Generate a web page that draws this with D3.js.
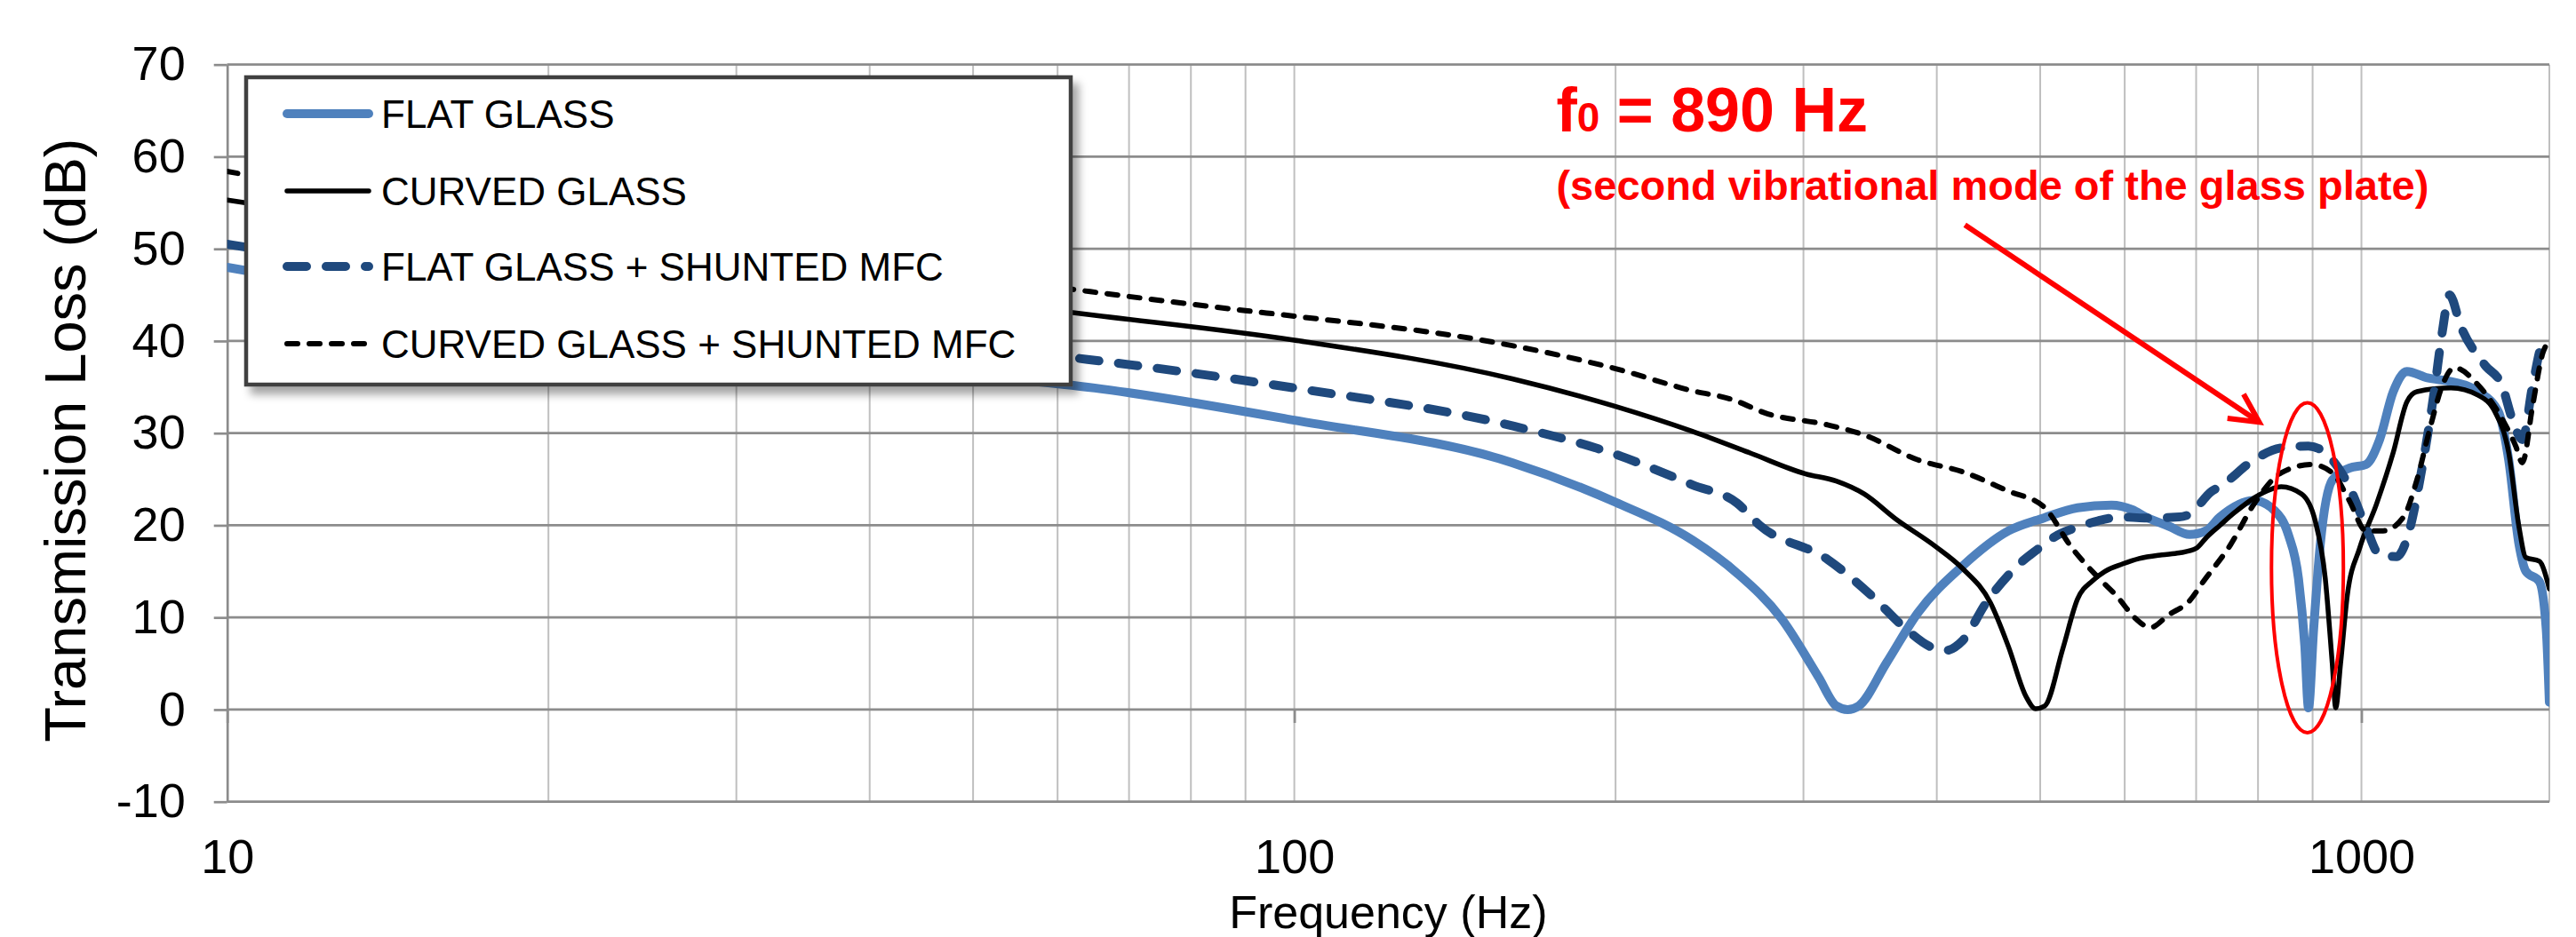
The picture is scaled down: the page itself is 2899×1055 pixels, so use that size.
<!DOCTYPE html>
<html>
<head>
<meta charset="utf-8">
<script src="https://cdn.jsdelivr.net/npm/d3@7"></script>
<style>
  body { margin: 0; background: #fff; }
  svg { display: block; font-family: "Liberation Sans", Arial, sans-serif; }
</style>
</head>
<body>
<div id="chart"></div>
<script>
// transmission loss curves, [frequency (Hz), TL (dB)]
const flatGlass = [
  [10, 48.0], [20, 42.2], [35, 38.3], [50, 36.3], [65, 34.9], [100, 31.4], [160, 26.8],
  [200, 22.5], [236, 18.4], [260, 14.8], [286, 9.9], [310, 3.5], [322, 0.4], [330, 0.0],
  [338, 0.4], [359, 5.1], [384, 10.5], [423, 15.6], [467, 19.4], [504, 20.8], [542, 21.9],
  [583, 22.2], [610, 21.7], [628, 20.9], [660, 19.9], [690, 19.0], [715, 19.4], [737, 20.9],
  [793, 22.7], [829, 21.6], [854, 19.0], [873, 14.2], [885, 6.9], [892, 0.2], [902, 8.7],
  [915, 17.9], [939, 24.9], [974, 26.2], [1010, 26.6], [1040, 29.3], [1071, 34.5],
  [1103, 36.7], [1153, 36.0], [1213, 35.6], [1287, 34.5], [1344, 32.3], [1374, 27.1],
  [1405, 17.9], [1426, 15.0], [1468, 13.9], [1490, 8.7], [1500, 0.8]
];

const curvedGlass = [
  [10, 55.3], [20, 50.2], [35, 46.6], [50, 44.4], [65, 42.8], [100, 40.1], [160, 35.9],
  [200, 32.9], [236, 30.2], [268, 27.8], [301, 25.6], [322, 24.8], [342, 23.4], [366, 20.7],
  [399, 17.7], [423, 15.3], [449, 11.6], [467, 6.8], [485, 1.4], [495, 0.1], [505, 0.4],
  [525, 6.6], [542, 12.0], [560, 14.0], [575, 15.0], [597, 15.8], [619, 16.4], [650, 16.8],
  [675, 17.0], [700, 17.5], [716, 18.7], [737, 20.0], [759, 21.3], [805, 23.4], [841, 24.2],
  [879, 23.4], [905, 20.5], [925, 14.2], [939, 5.0], [946, 0.2], [956, 5.0], [970, 12.4],
  [996, 17.5], [1033, 22.3], [1071, 27.9], [1103, 33.4], [1127, 34.5], [1213, 34.9],
  [1287, 34.1], [1334, 32.3], [1374, 27.9], [1405, 19.8], [1426, 16.5], [1468, 16.1], [1500, 13.1]
];

const flatGlassMfc = [
  [10, 50.5], [20, 45.2], [35, 41.3], [50, 39.4], [64, 38.0], [100, 34.9], [160, 30.8],
  [200, 27.7], [236, 24.4], [260, 22.4], [273, 20.0], [316, 16.3], [348, 12.3], [373, 8.9],
  [395, 6.8], [407, 6.4], [423, 7.5], [445, 11.6], [476, 15.6], [504, 17.9], [515, 18.7],
  [542, 19.8], [567, 20.5], [596, 20.9], [626, 20.8], [675, 20.9], [690, 21.2], [724, 23.7],
  [737, 24.2], [793, 27.1], [841, 28.4], [892, 28.6], [939, 27.1], [974, 24.2], [1010, 19.8],
  [1040, 16.8], [1079, 16.6], [1111, 19.8], [1136, 25.3], [1170, 34.5], [1191, 41.1],
  [1209, 45.0], [1240, 41.5], [1305, 37.4], [1354, 35.2], [1384, 31.6], [1415, 29.3],
  [1447, 35.2], [1479, 39.7], [1500, 40.0]
];

const curvedGlassMfc = [
  [10, 58.4], [20, 52.6], [35, 49.0], [50, 47.0], [62, 45.6], [90, 43.3], [100, 42.7],
  [148, 40.2], [160, 39.5], [200, 37.0], [236, 34.6], [258, 33.6], [276, 32.2], [316, 30.9],
  [342, 29.8], [384, 27.1], [423, 25.8], [467, 23.7], [504, 22.0], [535, 17.6], [567, 14.3],
  [590, 12.3], [614, 9.9], [634, 8.9], [660, 10.3], [690, 11.8], [711, 13.9], [754, 17.9],
  [793, 22.3], [841, 25.7], [898, 26.6], [939, 25.7], [974, 22.7], [1010, 19.4], [1048, 19.4],
  [1095, 20.9], [1127, 24.9], [1161, 30.8], [1191, 35.2], [1222, 37.1], [1287, 35.2],
  [1354, 31.6], [1395, 28.6], [1415, 26.8], [1447, 33.0], [1479, 38.7], [1500, 40.0]
];

const seriesNames = ["FLAT GLASS", "CURVED GLASS", "FLAT GLASS + SHUNTED MFC", "CURVED GLASS + SHUNTED MFC"];
const yTicks = [-10, 0, 10, 20, 30, 40, 50, 60, 70];
const xLabelTicks = [10, 100, 1000];

// annotation
const f0 = 890;
const annoTitle = "= 890 Hz";
const annoSub = "(second vibrational mode of the glass plate)";

// setup
const width = 2899, height = 1055;
const plot = {left: 255.7, right: 2869, top: 72.7, bottom: 902.7};

const x = d3.scaleLog().domain([10, 1500]).range([plot.left, plot.right]);
const y = d3.scaleLinear().domain([-10, 70]).range([plot.bottom, plot.top]);

const svg = d3.select("#chart").append("svg")
  .attr("width", width)
  .attr("height", height);

svg.append("rect").attr("width", width).attr("height", height).attr("fill", "#fff");

const defs = svg.append("defs");
defs.append("clipPath").attr("id", "plotClip")
  .append("rect")
  .attr("x", plot.left).attr("y", plot.top - 10)
  .attr("width", plot.right - plot.left).attr("height", plot.bottom - plot.top + 20);

defs.append("filter").attr("id", "shadow")
  .attr("x", "-5%").attr("y", "-5%").attr("width", "115%").attr("height", "125%")
  .append("feDropShadow")
  .attr("dx", 7).attr("dy", 9).attr("stdDeviation", 5)
  .attr("flood-color", "#000").attr("flood-opacity", 0.35);

// vertical grid (log minor + right edge)
const xGrid = x.ticks().filter(d => d > 10).concat([1500]);
svg.append("g").selectAll("line")
  .data(xGrid)
  .join("line")
  .attr("x1", d => x(d)).attr("x2", d => x(d))
  .attr("y1", plot.top).attr("y2", plot.bottom)
  .attr("stroke", "#bfbfbf")
  .attr("stroke-width", 2);

// horizontal grid
svg.append("g").selectAll("line")
  .data(yTicks)
  .join("line")
  .attr("x1", plot.left).attr("x2", plot.right)
  .attr("y1", d => y(d)).attr("y2", d => y(d))
  .attr("stroke", "#8c8c8c")
  .attr("stroke-width", 2.7);

// Eixo Y
const yAxis = d3.axisLeft(y)
  .tickValues(yTicks)
  .tickSize(15)
  .tickSizeOuter(0)
  .tickPadding(32)
  .tickFormat(d => String(d));

const gy = svg.append("g")
  .attr("transform", `translate(${plot.left},0)`)
  .call(yAxis);
gy.selectAll("path, line").attr("stroke", "#8c8c8c").attr("stroke-width", 2.7);
gy.selectAll("text").attr("fill", "#000").style("font-size", "54px")
  .style("font-family", '"Liberation Sans", Arial, sans-serif');

// Eixo X: ticks at y = 0, labels at bottom
const gxTicks = svg.append("g")
  .attr("transform", `translate(0,${y(0)})`)
  .call(d3.axisBottom(x).tickValues(xLabelTicks).tickSize(15).tickFormat(""));
gxTicks.select(".domain").remove();
gxTicks.selectAll("line").attr("stroke", "#8c8c8c").attr("stroke-width", 2.7);

const gxLabels = svg.append("g")
  .attr("transform", `translate(0,${y(-10)})`)
  .call(d3.axisBottom(x).tickValues(xLabelTicks).tickSize(0).tickPadding(42).tickFormat(d3.format("d")));
gxLabels.select(".domain").remove();
gxLabels.selectAll("text").attr("fill", "#000").style("font-size", "54px")
  .style("font-family", '"Liberation Sans", Arial, sans-serif');

// axis titles
svg.append("text")
  .attr("x", (plot.left + plot.right) / 2)
  .attr("y", 1045)
  .attr("text-anchor", "middle")
  .style("font-size", "52px")
  .text("Frequency (Hz)");

svg.append("text")
  .attr("transform", `translate(96,${(plot.top + plot.bottom) / 2 + 8}) rotate(-90)`)
  .attr("text-anchor", "middle")
  .style("font-size", "65px")
  .text("Transmission Loss (dB)");

// curves
const styles = [
  {data: flatGlass, color: "#4f81bd", width: 10, dash: null},
  {data: curvedGlass, color: "#000000", width: 5.5, dash: null},
  {data: flatGlassMfc, color: "#1f497d", width: 10, dash: "22,22"},
  {data: curvedGlassMfc, color: "#000000", width: 6, dash: "12,13"}
];

const line = d3.line()
  .x(d => x(d[0]))
  .y(d => y(d[1]))
  .curve(d3.curveMonotoneX);

const curves = svg.append("g").attr("clip-path", "url(#plotClip)");
curves.selectAll("path")
  .data(styles)
  .join("path")
  .attr("d", d => line(d.data))
  .attr("fill", "none")
  .attr("stroke", d => d.color)
  .attr("stroke-width", d => d.width)
  .attr("stroke-dasharray", d => d.dash)
  .attr("stroke-linecap", "round")
  .attr("stroke-linejoin", "round");

// legend
const legend = svg.append("g").attr("transform", "translate(277,87)");
legend.append("rect")
  .attr("width", 928).attr("height", 346)
  .attr("fill", "#fff")
  .attr("stroke", "#404040")
  .attr("stroke-width", 4.5)
  .attr("filter", "url(#shadow)");

const rowY = [41, 128, 213, 300];
const rows = legend.selectAll(".row")
  .data(styles)
  .join("g")
  .attr("class", "row")
  .attr("transform", (d, i) => `translate(0,${rowY[i]})`);

rows.append("line")
  .attr("x1", 46).attr("x2", 138)
  .attr("stroke", d => d.color)
  .attr("stroke-width", d => d.width)
  .attr("stroke-dasharray", d => d.dash)
  .attr("stroke-linecap", "round");

rows.append("text")
  .attr("x", 152)
  .attr("y", 15.8)
  .style("font-size", "44px")
  .text((d, i) => seriesNames[i]);

// annotation
const red = "#ff0000";
const anno = svg.append("g");

const title = anno.append("text")
  .attr("x", x(176))
  .attr("y", y(62.74))
  .attr("fill", red)
  .style("font-size", "70px")
  .style("font-weight", "bold");
title.append("tspan").text("f");
title.append("tspan").style("font-size", "46px").text("0");
title.append("tspan").text(" " + annoTitle);

anno.append("text")
  .attr("x", x(176))
  .attr("y", y(55.32))
  .attr("fill", red)
  .style("font-size", "47px")
  .style("font-weight", "bold")
  .text(annoSub);

// arrow
const a0 = [x(425), y(52.6)], a1 = [x(802), y(31.2)];
const ang = Math.atan2(a0[1] - a1[1], a0[0] - a1[0]);
const armLen = 36, armAng = 27 * Math.PI / 180;
const arm = s => [a1[0] + armLen * Math.cos(ang + s * armAng), a1[1] + armLen * Math.sin(ang + s * armAng)];

anno.append("line")
  .attr("x1", a0[0]).attr("y1", a0[1])
  .attr("x2", a1[0]).attr("y2", a1[1])
  .attr("stroke", red).attr("stroke-width", 6);

anno.append("path")
  .attr("d", d3.line()([arm(1), a1, arm(-1)]))
  .attr("fill", "none")
  .attr("stroke", red).attr("stroke-width", 6)
  .attr("stroke-linejoin", "miter");

// ellipse round the f0 dip
anno.append("ellipse")
  .attr("cx", x(f0))
  .attr("cy", y(15.4))
  .attr("rx", (x(960) - x(822)) / 2)
  .attr("ry", (y(-2.5) - y(33.3)) / 2)
  .attr("fill", "none")
  .attr("stroke", red)
  .attr("stroke-width", 4);
</script>
</body>
</html>
